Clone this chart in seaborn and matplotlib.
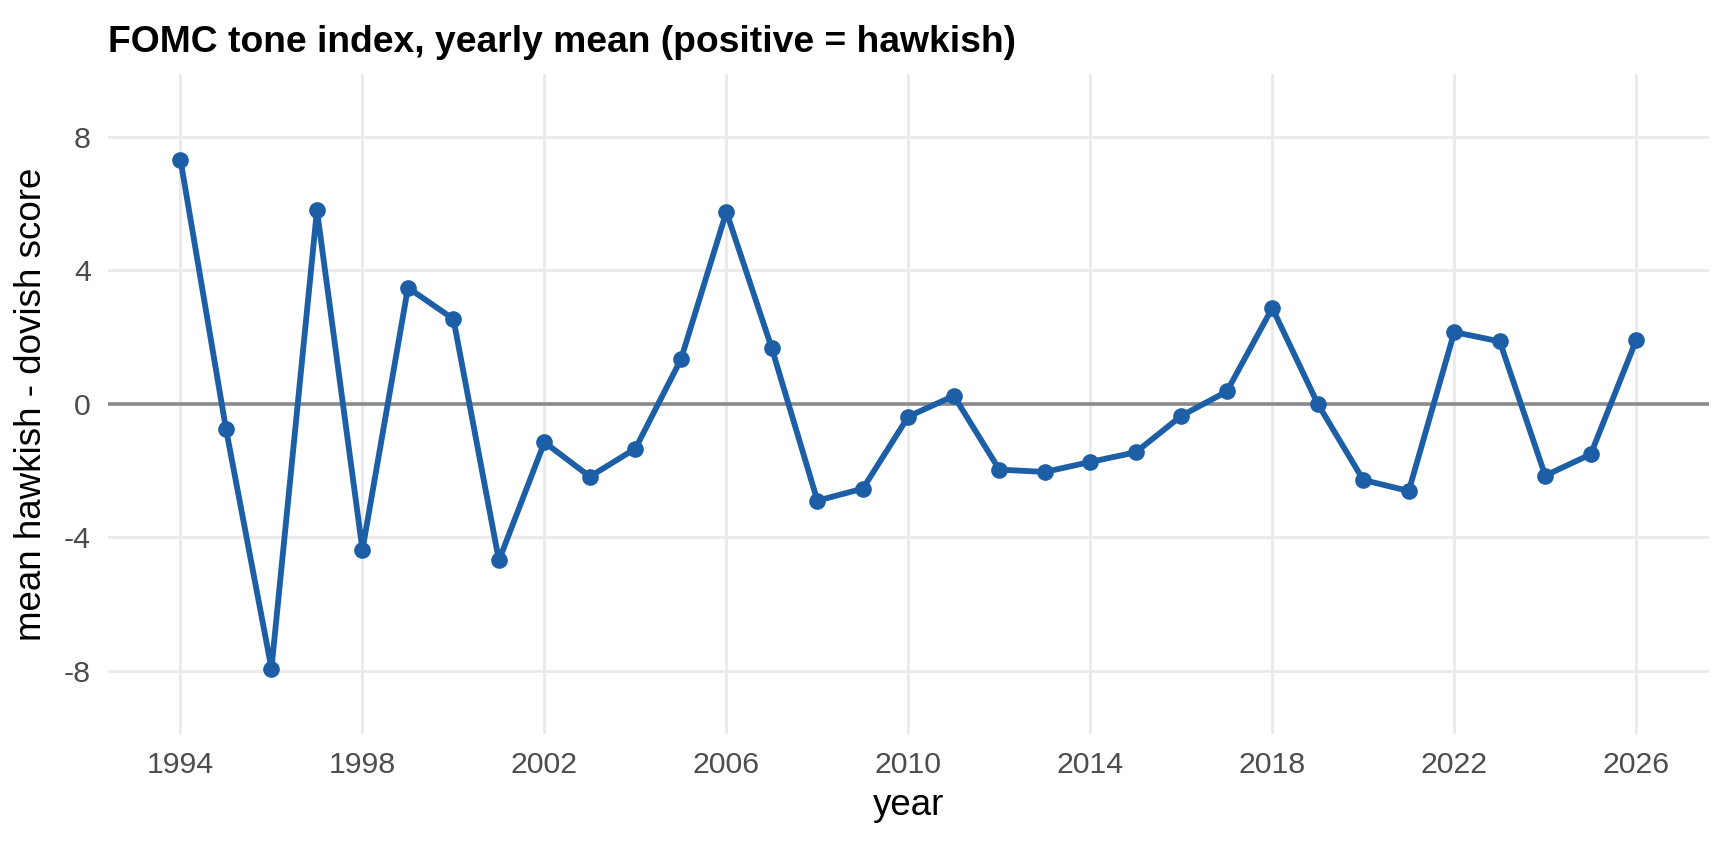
import matplotlib
matplotlib.use("Agg")
import matplotlib.pyplot as plt
import seaborn as sns
import pandas as pd

years = list(range(1994, 2027))
tone = [7.31, -0.75, -7.93, 5.80, -4.37, 3.48, 2.54, -4.69, -1.15, -2.18,
        -1.34, 1.33, 5.75, 1.66, -2.90, -2.54, -0.38, 0.24, -1.97, -2.04,
        -1.74, -1.45, -0.36, 0.37, 2.87, 0.00, -2.28, -2.61, 2.15, 1.87,
        -2.15, -1.51, 1.91]
x_ticks = [1994, 1998, 2002, 2006, 2010, 2014, 2018, 2022, 2026]
y_ticks = [-8, -4, 0, 4, 8]
y_tick_labels = ["-8", "-4", "0", "4", "8"]

title = "FOMC tone index, yearly mean (positive = hawkish)"
x_label = "year"
y_label = "mean hawkish - dovish score"

df = pd.DataFrame({"year": years, "tone": tone})

sns.set_theme(style="white")
plt.rcParams["font.family"] = ["Liberation Sans", "DejaVu Sans"]

fig = plt.figure(figsize=(17.28, 8.44), dpi=100)
ax = fig.add_axes([107.7 / 1728, 1 - 734 / 844, (1709 - 107.7) / 1728, (734 - 73.7) / 844])

line_col = "#1c5fa6"
ax.axhline(0, color="#8a8a8a", lw=2.6, zorder=1)
sns.lineplot(data=df, x="year", y="tone", ax=ax, color=line_col, lw=4.2,
             marker="o", markersize=12, markeredgewidth=0, zorder=3)

ax.set_xlim(1992.4, 2027.6)
ax.set_ylim(-9.89, 9.89)
ax.set_xticks(x_ticks)
ax.set_xticklabels([str(v) for v in x_ticks])
ax.set_yticks(y_ticks)
ax.set_yticklabels(y_tick_labels)

ax.grid(True, color="#EBEBEB", lw=2.1, zorder=0)
ax.set_axisbelow(True)
for s in ax.spines.values():
    s.set_visible(False)
ax.tick_params(axis="both", length=0, labelsize=21.8, labelcolor="#4D4D4D")
ax.tick_params(axis="x", pad=12)
ax.tick_params(axis="y", pad=12)

ax.set_xlabel(x_label, fontsize=26.5, color="black", labelpad=7)
ax.set_ylabel(y_label, fontsize=26.5, color="black", labelpad=11)

fig.text(107.7 / 1728, 1 - 52.4 / 844, title, fontsize=26.8, fontweight="bold",
         ha="left", va="baseline", color="black")

fig.savefig("out.png", dpi=100)
